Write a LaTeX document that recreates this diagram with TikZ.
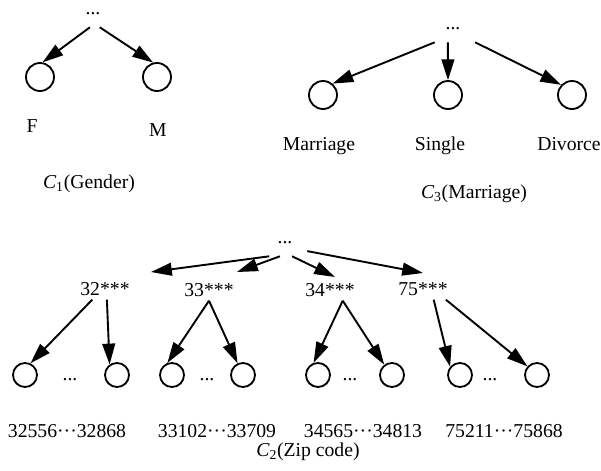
\documentclass[tikz,border=0pt]{standalone}
\usepackage{fontspec}
\setmainfont{Liberation Serif}
\usetikzlibrary{arrows.meta, positioning}
\newcommand{\catname}[1]{{\itshape C}\textsubscript{#1}}
\newcommand{\mdots}{\textperiodcentered\textperiodcentered\textperiodcentered}

\begin{document}
\begin{tikzpicture}[
    x=0.025cm, y=-0.025cm,
    every node/.style={font=\fontsize{14}{16}\selectfont},
    leaf/.style={circle, draw, line width=1.3pt, minimum size=0.7cm, inner sep=0pt},
    smallleaf/.style={leaf, minimum size=0.6cm},
    dotsnode/.style={inner sep=0pt, minimum width=1.1cm, minimum height=0.65cm},
    code/.style={inner sep=0pt, minimum width=1.55cm, minimum height=0.52cm},
    arrow/.style={-{Triangle[length=5.2mm, width=3.2mm]}, line width=1.35pt}
]
\useasboundingbox (0,0) rectangle (601,470);

% Gender
\node[dotsnode] (dotsG) at (93,14) {...};
\node[leaf] (cF) at (40,77) {};
\node[leaf] (cM) at (157,77) {};
\node[anchor=base] (lF) at (32,132) {F};
\node[anchor=base] (lM) at (158,136) {M};
\node[anchor=base] (tG) at (89,188) {\catname{1}(Gender)};

% Marriage
\node[dotsnode] (dotsS) at (453,29) {...};
\node[leaf] (cMar) at (323,95) {};
\node[leaf] (cSin) at (448,95) {};
\node[leaf] (cDiv) at (572,95) {};
\node[anchor=base] (lMar) at (319,150) {Marriage};
\node[anchor=base] (lSin) at (440,150) {Single};
\node[anchor=base] (lDiv) at (569,150) {Divorce};
\node[anchor=base] (tS) at (474,198) {\catname{3}(Marriage)};

% Zip code
\node[dotsnode] (dotsZ) at (285,243) {...};
\node[code] (n32) at (105,289) {32***};
\node[code] (n33) at (209,290) {33***};
\node[code] (n34) at (330,290) {34***};
\node[code] (n75) at (423,289) {75***};
\coordinate (t32) at (151,272);
\coordinate (t33) at (237,272);
\coordinate (t34) at (335,277);
\coordinate (t75) at (423,273);

% Zip code leaves
\node[smallleaf] (z1) at (25,375) {};
\node[smallleaf] (z2) at (117,375) {};
\node[smallleaf] (z3) at (172,375) {};
\node[smallleaf] (z4) at (243,375) {};
\node[smallleaf] (z5) at (318,375) {};
\node[smallleaf] (z6) at (392,375) {};
\node[smallleaf] (z7) at (460,375) {};
\node[smallleaf] (z8) at (537,375) {};
\node[inner sep=0pt] (g1) at (70,380) {...};
\node[inner sep=0pt] (g2) at (207,380) {...};
\node[inner sep=0pt] (g3) at (350,380) {...};
\node[inner sep=0pt] (g4) at (490,380) {...};
\node[anchor=base] (r1) at (67,437) {32556\mdots32868};
\node[anchor=base] (r2) at (217,437) {33102\mdots33709};
\node[anchor=base] (r3) at (363,437) {34565\mdots34813};
\node[anchor=base] (r4) at (504,437) {75211\mdots75868};
\node[anchor=base] (tZ) at (308,456) {\catname{2}(Zip code)};

% Arrows
\draw[arrow] (dotsG.-103) -- (cF.80);
\draw[arrow] (dotsG.-63) -- (cM.105);
\draw[arrow] (dotsS.-144) -- (cMar.50);
\draw[arrow] (dotsS.-111) -- (cSin.north);
\draw[arrow] (dotsS.-31) -- (cDiv.137);
\draw[arrow] (dotsZ.-140) -- (t32);
\draw[arrow] (dotsZ.-111) -- (t33);
\draw[arrow] (dotsZ.-62) -- (t34);
\draw[arrow] (dotsZ.-20) -- (t75);
\draw[arrow] (n32.-140) -- (z1.65);
\draw[arrow] (n32.-80) -- (z2.125);
\draw[arrow] (n33.south) -- (z3.111);
\draw[arrow] (n33.south) -- (z4.115);
\draw[arrow] (n34.-40) -- (z5.110);
\draw[arrow] (n34.-40) -- (z6.127);
\draw[arrow] (n75.-45) -- (z7.140);
\draw[arrow] (n75.-25) -- (z8.138);

\end{tikzpicture}
\end{document}
